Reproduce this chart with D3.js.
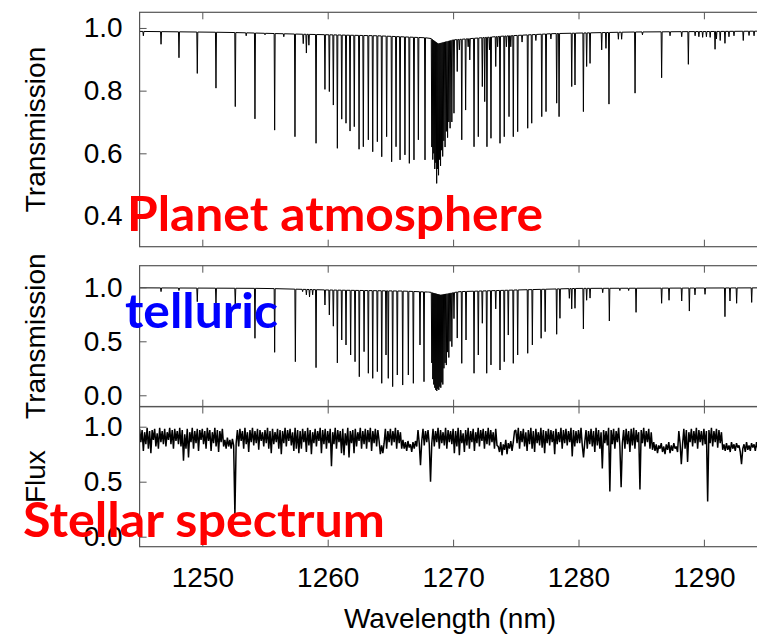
<!DOCTYPE html>
<html>
<head>
<meta charset="utf-8">
<script src="https://cdn.jsdelivr.net/npm/d3@7/dist/d3.min.js"></script>
<style>
  body { margin: 0; background: #fff; }
  svg { display: block; }
  .lbl { font-family: "Liberation Sans", Arial, sans-serif; fill: #000; }
  .note { font-family: Lato, "Open Sans", sans-serif; font-weight: bold; }
</style>
</head>
<body>
<div id="main"></div>
<script>
var width = 757;
var height = 635;

// planet atmosphere transmission: line centres (nm) and line minima
var planetWl = [1245.30,1246.71,1248.14,1249.60,1251.09,1252.63,1253.50,1254.20,1255.00,1255.77,
  1256.50,1257.39,1258.05,1258.30,1258.50,1259.07,1259.78,1260.13,1260.45,1260.77,
  1261.12,1261.46,1261.78,1262.12,1262.50,1262.84,1263.24,1263.59,1263.96,1264.31,
  1264.70,1265.10,1265.45,1265.77,1266.16,1266.51,1266.88,1267.23,1267.76,1268.30,
  1268.38,1268.46,1268.54,1268.62,1268.69,1268.76,1268.84,1268.92,1269.00,1269.08,
  1269.17,1269.26,1269.36,1269.46,1269.56,1269.66,1269.76,1269.90,1270.07,1270.33,
  1270.50,1270.69,1271.00,1271.20,1271.33,1271.67,1272.01,1272.33,1272.52,1272.70,
  1272.90,1273.02,1273.40,1273.55,1273.74,1274.08,1274.25,1274.46,1274.60,1274.80,
  1275.15,1275.50,1275.95,1276.27,1276.60,1277.07,1277.41,1277.80,1278.26,1278.45,
  1279.46,1279.72,1280.39,1280.65,1280.92,1281.85,1282.19,1282.43,1283.18,1283.44,
  1284.51,1285.10,1286.63,1287.30,1288.23,1288.76,1289.30,1289.60,1289.90,1290.20,
  1290.50,1290.89,1291.00,1291.30,1291.68,1292.00,1292.40,1293.14,1293.60,1294.00];
var planetMin = [.975,.948,.905,.855,.808,.749,.975,.710,.978,.674,
  .972,.653,.950,.920,.945,.632,.804,.797,.754,.616,
  .709,.696,.671,.685,.613,.621,.643,.605,.637,.589,
  .653,.573,.621,.579,.595,.568,.579,.643,.579,.620,
  .580,.600,.550,.570,.504,.550,.530,.580,.560,.610,
  .590,.640,.620,.670,.650,.700,.680,.700,.728,.861,
  .930,.643,.738,.940,.898,.621,.653,.813,.765,.621,
  .930,.648,.877,.940,.632,.653,.940,.717,.940,.653,
  .669,.955,.680,.696,.960,.717,.733,.965,.760,.717,
  .813,.818,.733,.877,.887,.930,.935,.757,.964,.964,
  .792,.978,.841,.975,.972,.884,.975,.972,.970,.972,
  .970,.932,.965,.960,.951,.972,.975,.960,.976,.975];
var planetContWl  = [1245, 1252, 1258, 1264, 1268.2, 1268.8, 1270, 1274, 1278, 1284, 1295];
var planetContVal = [0.989, 0.986, 0.980, 0.975, 0.968, 0.950, 0.962, 0.974, 0.982, 0.987, 0.990];

// telluric transmission
var telluricWl = [1246.71,1248.14,1249.60,1251.09,1252.63,1254.20,1255.77,1257.42,1258.00,1258.30,
  1258.55,1258.80,1259.07,1259.78,1260.13,1260.45,1260.77,1261.12,1261.46,1261.83,
  1262.18,1262.52,1262.90,1263.24,1263.59,1263.96,1264.31,1264.65,1264.83,1265.18,
  1265.55,1265.98,1266.43,1266.83,1267.36,1267.68,1268.00,1268.30,1268.38,1268.46,
  1268.54,1268.62,1268.70,1268.78,1268.86,1268.94,1269.02,1269.10,1269.18,1269.27,
  1269.36,1269.46,1269.56,1269.66,1269.76,1269.90,1270.07,1270.33,1270.69,1271.03,
  1271.67,1272.01,1272.33,1272.68,1273.02,1273.40,1273.74,1274.08,1274.40,1274.80,
  1275.15,1275.95,1276.32,1277.02,1277.34,1278.26,1278.52,1279.27,1279.46,1279.72,
  1280.39,1280.65,1280.92,1281.93,1282.46,1283.30,1284.00,1284.59,1286.63,1287.22,
  1288.23,1288.84,1289.29,1290.09,1291.68,1292.08,1292.61,1293.81];
var telluricMin = [.96,.97,.867,.85,.836,.528,.398,.311,.96,.93,
  .91,.93,.256,.836,.744,.64,.30,.512,.466,.373,
  .311,.172,.404,.204,.157,.219,.111,.373,.157,.080,
  .188,.095,.188,.111,.466,.126,.96,.30,.15,.10,
  .07,.05,.04,.06,.05,.08,.07,.12,.10,.25,
  .30,.28,.40,.35,.50,.45,.71,.53,.296,.512,
  .204,.373,.667,.204,.281,.80,.234,.311,.558,.296,
  .373,.389,.466,.528,.589,.565,.713,.898,.80,.806,
  .614,.88,.90,.95,.688,.97,.97,.768,.852,.88,
  .873,.78,.93,.935,.728,.873,.852,.86];
var telluricContWl  = [1245, 1255, 1260, 1266, 1268.2, 1269, 1270.5, 1275, 1280, 1295];
var telluricContVal = [0.995, 0.990, 0.975, 0.965, 0.955, 0.930, 0.960, 0.975, 0.990, 0.995];

// stellar flux (percent), one sample every 0.1 nm from 1245.0 nm
var stellarStart = 1245.0;
var stellarStep = 0.1;
var stellarFluxPct = [
  98,86,97,78,95,84,99,80,96,76, 97,88,98,82,94,80,99,86,96,84, 98,82,95,88,99,84,97,80,98,87, 96,84,99,82,97,69,93,80,98,72, 95,86,99,80,96,85,98,78,97,88,
  98,84,96,80,99,87,97,78,95,85, 99,82,97,77,96,86,98,82,88,80, 90,82,88,80,89,83,20,85,97,82, 98,87,96,80,99,84,95,77,97,86, 99,83,96,85,98,79,97,87,95,82,
  97,85,99,80,96,76,98,84,95,86, 98,80,97,75,96,85,99,82,97,87, 98,83,95,78,99,80,97,76,96,80, 98,86,96,77,99,83,97,75,95,85, 98,82,96,87,99,76,97,84,98,80,
  96,85,98,64,95,84,99,80,97,86, 96,76,98,74,94,83,99,72,96,85, 97,76,98,82,95,87,99,80,96,84, 98,80,97,86,99,78,96,85,98,82, 97,87,75,83,76,85,98,80,96,86,
  98,83,96,86,99,80,97,85,95,80, 88,80,86,78,87,81,84,77,86,80, 87,82,97,85,65,87,98,83,96,86, 97,84,50,85,98,82,96,86,99,80, 97,85,95,83,99,80,97,86,96,84,
  98,76,96,82,99,74,97,85,94,77, 97,83,99,80,96,86,98,78,95,85, 99,82,97,87,98,80,96,84,99,83, 97,86,95,80,98,83,82,77,86,74, 84,79,88,75,85,80,87,78,86,96,
  97,85,99,80,96,86,98,82,95,78, 97,84,99,80,96,77,98,85,95,83, 99,81,97,76,96,85,98,83,97,86, 96,75,98,84,95,86,99,80,97,85, 98,83,96,86,99,73,97,82,96,85,
  97,85,99,83,72,86,97,80,96,84, 98,82,96,77,99,83,97,80,95,62, 97,85,96,83,99,41,97,84,98,80, 96,86,99,82,45,85,97,80,98,84, 96,77,98,83,99,80,97,86,95,43,
  97,85,99,82,96,86,98,80,95,79, 86,78,84,76,83,80,85,77,82,75, 84,79,86,76,83,78,85,80,82,77, 96,85,66,84,98,80,97,68,95,86, 98,82,96,85,99,80,97,86,96,83,
  98,84,96,32,97,85,99,82,96,86, 98,81,97,85,95,79,84,78,85,79, 83,77,86,80,84,78,85,81,83,77, 66,80,84,77,86,79,83,78,85,81, 84,78,86,80,83,79,85,81,84,80
];

var xTicks = [1250, 1260, 1270, 1280, 1290];
var planetTicks = [0.4, 0.6, 0.8, 1.0];
var telluricTicks = [0, 0.5, 1.0];
var fluxTicks = [0, 0.5, 1.0];

var FRAME = "#555";
var TICK = 7;
var FS = 28;

function init(){
  var svg = d3.select("#main").append("svg")
    .attr("width", width)
    .attr("height", height);

  var x = d3.scaleLinear().domain([1245, 1295]).range([139.6, 766.6]);

  // turns a line list into a spiky path that sits on its continuum
  function linePoints(wl, mins, cont){
    var hw = 0.04;
    var order = d3.range(wl.length).sort(function(a, b){ return wl[a] - wl[b]; });
    var pts = [[1245, cont(1245)]];
    order.forEach(function(i){
      var l = wl[i];
      pts.push([l - hw, cont(l - hw)], [l, mins[i]], [l + hw, cont(l + hw)]);
    });
    pts.push([1295, cont(1295)]);
    return pts;
  }

  var planetCont = d3.scaleLinear().domain(planetContWl).range(planetContVal).clamp(true);
  var telluricCont = d3.scaleLinear().domain(telluricContWl).range(telluricContVal).clamp(true);

  var panels = [
    {top: 12.3, bottom: 246.7, domain: [0.302, 1.05], ticks: planetTicks, title: "Transmission",
      pts: linePoints(planetWl, planetMin, planetCont), width: 1},
    {top: 265.7, bottom: 406.7, domain: [-0.1056, 1.2], ticks: telluricTicks, title: "Transmission",
      pts: linePoints(telluricWl, telluricMin, telluricCont), width: 1},
    {top: 406.5, bottom: 546.7, domain: [-0.0909, 1.1836], ticks: fluxTicks, title: "Flux",
      pts: stellarFluxPct.map(function(f, i){ return [stellarStart + i * stellarStep, f / 100]; }), width: 1.5}
  ];

  panels.forEach(function(p, k){
    var y = d3.scaleLinear().domain(p.domain).range([p.bottom, p.top]);
    var g = svg.append("g");

    g.append("clipPath").attr("id", "clip" + k)
      .append("rect")
      .attr("x", x.range()[0]).attr("y", p.top)
      .attr("width", x.range()[1] - x.range()[0]).attr("height", p.bottom - p.top);

    var line = d3.line()
      .x(function(d){ return x(d[0]); })
      .y(function(d){ return y(d[1]); });

    g.append("path")
      .datum(p.pts)
      .attr("clip-path", "url(#clip" + k + ")")
      .attr("fill", "none")
      .attr("stroke", "#000")
      .attr("stroke-width", p.width)
      .attr("stroke-linejoin", "bevel")
      .attr("d", line);

    // y axis, ticks pointing inwards
    var ya = g.append("g")
      .attr("transform", "translate(" + x.range()[0] + ",0)")
      .call(d3.axisLeft(y).tickValues(p.ticks).tickFormat(d3.format(".1f"))
        .tickSizeInner(-TICK).tickSizeOuter(0).tickPadding(17));
    ya.select(".domain").remove();
    ya.selectAll("line").attr("stroke", FRAME);
    ya.selectAll("text").attr("class", "lbl").attr("font-size", FS).attr("font-family", null);

    // x ticks at top and bottom of every panel
    var xt = g.append("g")
      .attr("transform", "translate(0," + p.top + ")")
      .call(d3.axisTop(x).tickValues(xTicks).tickFormat("").tickSizeInner(-TICK).tickSizeOuter(0));
    xt.select(".domain").remove();
    xt.selectAll("line").attr("stroke", FRAME);

    var last = (k === panels.length - 1);
    var xb = g.append("g")
      .attr("transform", "translate(0," + p.bottom + ")")
      .call(d3.axisBottom(x).tickValues(xTicks)
        .tickFormat(last ? d3.format("d") : "")
        .tickSizeInner(-TICK).tickSizeOuter(0).tickPadding(20));
    xb.select(".domain").remove();
    xb.selectAll("line").attr("stroke", FRAME);
    xb.selectAll("text").attr("class", "lbl").attr("font-size", FS).attr("font-family", null);

    // frame (right side lies outside the picture)
    g.append("rect")
      .attr("x", x.range()[0]).attr("y", p.top)
      .attr("width", x.range()[1] - x.range()[0]).attr("height", p.bottom - p.top)
      .attr("fill", "none").attr("stroke", FRAME).attr("stroke-width", 1.2);

    g.append("text")
      .attr("class", "lbl")
      .attr("font-size", FS)
      .attr("text-anchor", "middle")
      .attr("transform", "translate(45," + ((p.top + p.bottom) / 2) + ") rotate(-90)")
      .text(p.title);
  });

  svg.append("text")
    .attr("class", "lbl")
    .attr("font-size", FS)
    .attr("text-anchor", "middle")
    .attr("x", 450).attr("y", 628)
    .text("Wavelength (nm)");

  // slide annotations
  var notes = [
    {t: "Planet atmosphere", x: 127, y: 231, w: 416, c: "#ff0000"},
    {t: "telluric", x: 125, y: 328, w: 153, c: "#0000ff"},
    {t: "Stellar spectrum", x: 23, y: 537, w: 362, c: "#ff0000"}
  ];
  svg.selectAll(".note").data(notes).enter()
    .append("text")
    .attr("class", "note")
    .attr("font-size", 48)
    .attr("x", function(d){ return d.x; })
    .attr("y", function(d){ return d.y; })
    .attr("textLength", function(d){ return d.w; })
    .attr("lengthAdjust", "spacingAndGlyphs")
    .attr("fill", function(d){ return d.c; })
    .text(function(d){ return d.t; });
}

init();
</script>
</body>
</html>
